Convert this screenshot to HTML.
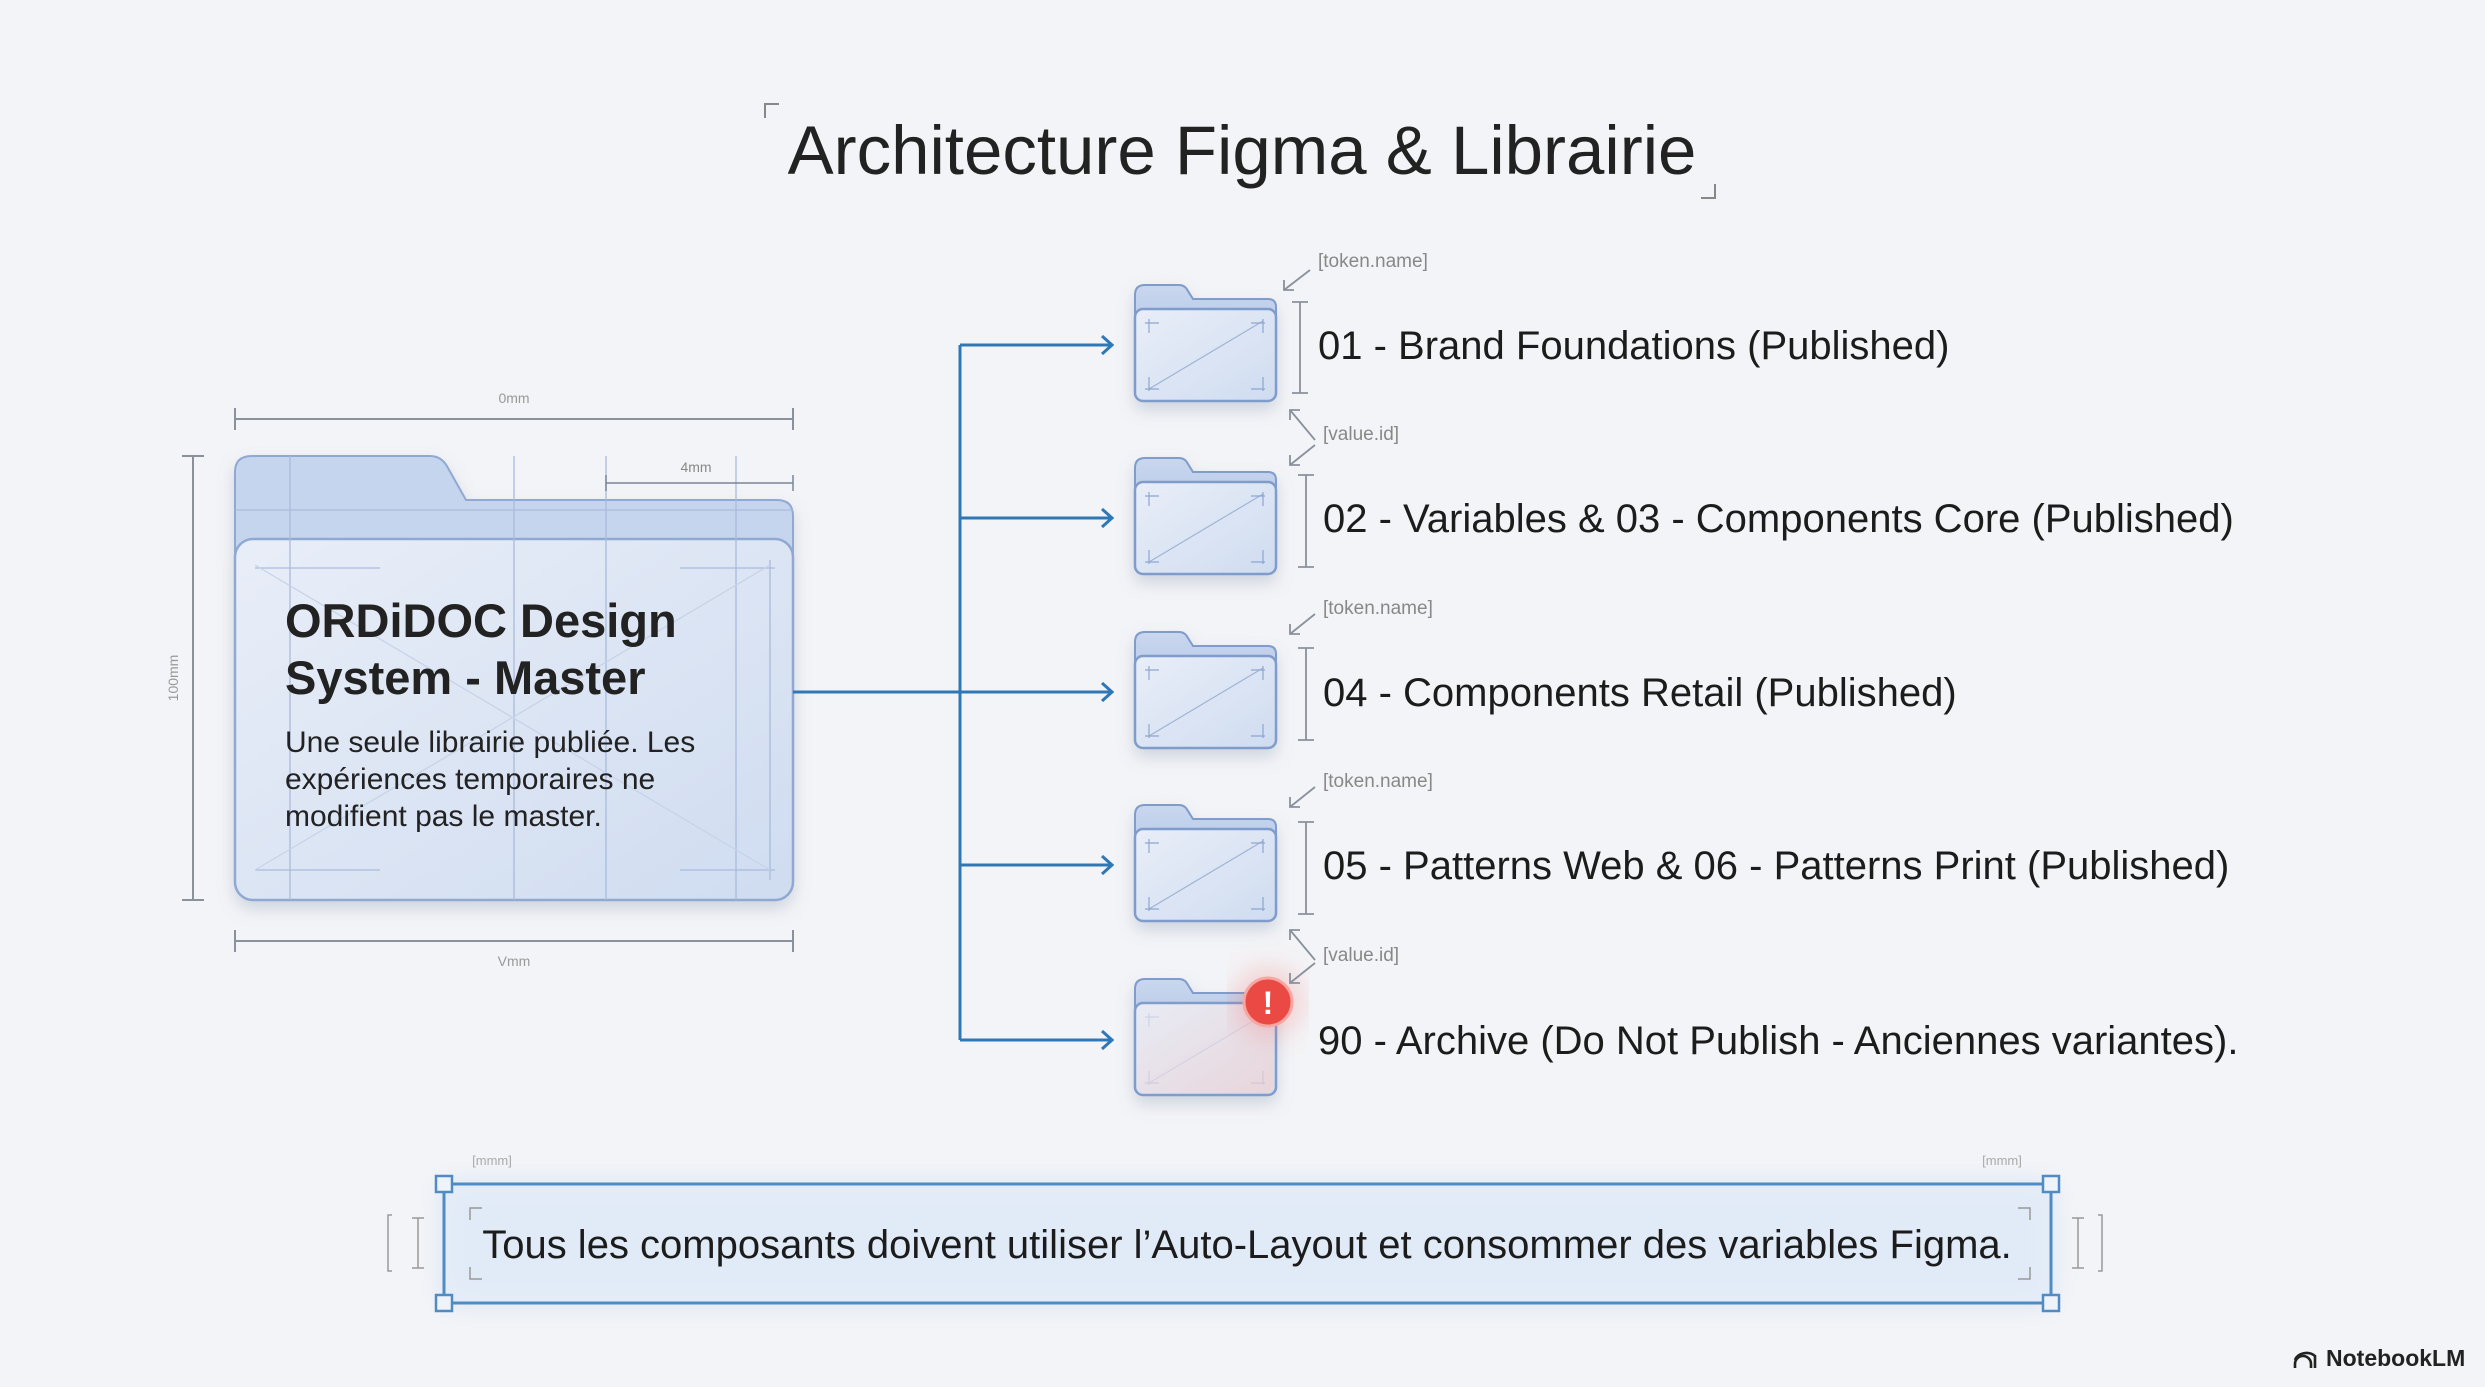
<!DOCTYPE html>
<html><head><meta charset="utf-8"><style>
html,body{margin:0;padding:0;background:#f3f4f7;}
svg{display:block;font-family:"Liberation Sans",sans-serif;}
</style></head><body>
<svg width="2485" height="1387" viewBox="0 0 2485 1387" xmlns="http://www.w3.org/2000/svg">
<defs>
<linearGradient id="fg" x1="0" y1="0" x2="1" y2="1"><stop offset="0" stop-color="#e9eef8"/><stop offset="1" stop-color="#cfdcf0"/></linearGradient>
<linearGradient id="bg2" x1="0" y1="0" x2="0" y2="1"><stop offset="0" stop-color="#c9d7ee"/><stop offset="1" stop-color="#b3c6e6"/></linearGradient>
<linearGradient id="red" x1="0" y1="0" x2="1" y2="1"><stop offset="0" stop-color="#e8eaf3"/><stop offset="1" stop-color="#f3d2d2"/></linearGradient>
<filter id="sh" x="-20%" y="-20%" width="140%" height="150%"><feDropShadow dx="0" dy="8" stdDeviation="8" flood-color="#7a8aa8" flood-opacity="0.3"/></filter>
<filter id="glow" x="-10%" y="-50%" width="120%" height="200%"><feGaussianBlur stdDeviation="14"/></filter>
<g id="sf">
<path d="M0,10 Q0,0 10,0 L44,0 Q50,0 53,6 L58,14 L133,14 Q141,14 141,22 L141,60 L0,60 Z" fill="url(#bg2)" stroke="#7f9ccb" stroke-width="2"/>
<rect x="0" y="24" width="141" height="92" rx="8" fill="url(#fg)" stroke="#7f9ccb" stroke-width="2.5"/>
<line x1="14" y1="104" x2="128" y2="36" stroke="#9fb3d6" stroke-width="1.2"/>
<path d="M14,34 v14 M10,38 h14 M128,34 v14 M116,38 h14 M14,92 v14 M10,104 h14 M128,92 v14 M116,104 h14" stroke="#8fa6cf" stroke-width="1.2"/>
</g>
<marker id="ah" markerWidth="14" markerHeight="20" refX="12" refY="10" orient="auto" markerUnits="userSpaceOnUse"><path d="M2,1 L12,10 L2,19" fill="none" stroke="#2f78b7" stroke-width="3"/></marker>
</defs>

<path d="M765,118 v-14 h14" stroke="#888" stroke-width="2" fill="none"/>
<path d="M1715,184 v14 h-14" stroke="#888" stroke-width="2" fill="none"/>
<text x="1242" y="174" text-anchor="middle" font-size="69" fill="#222">Architecture Figma &amp; Librairie</text>

<g stroke="#8a919c" stroke-width="2" fill="none">
<path d="M235,408 v22 M235,419 H793 M793,408 v22"/>
<path d="M182,456 h22 M193,456 V900 M182,900 h22"/>
<path d="M235,930 v22 M235,941 H793 M793,930 v22"/>
</g>
<text x="514" y="403" text-anchor="middle" font-size="14" fill="#999">0mm</text>
<text x="514" y="966" text-anchor="middle" font-size="14" fill="#999">Vmm</text>
<text x="178" y="678" text-anchor="middle" font-size="14" fill="#999" transform="rotate(-90 178 678)">100mm</text>

<g filter="url(#sh)">
<path d="M235,472 Q235,456 252,456 L430,456 Q442,456 448,468 L466,500 L777,500 Q793,500 793,516 L793,700 L235,700 Z" fill="#c6d5ee" stroke="#90a9d3" stroke-width="2"/>
<rect x="235" y="539" width="558" height="361" rx="18" fill="url(#fg)" stroke="#90a9d3" stroke-width="2.5"/>
</g>
<g stroke="#a9bbdc" stroke-width="1.3" fill="none">
<path d="M290,456 V900 M514,456 V900 M606,456 V900 M736,456 V900"/>
<path d="M235,510 H793"/>
<path d="M255,870 H380 M680,870 H775 M255,568 H380 M680,568 H775 M770,560 V880"/>
<path d="M255,565 L770,870 M770,565 L255,870" stroke="#c7d3e8"/>
</g>
<path d="M606,483 H793 M606,475 v16 M793,475 v16" stroke="#7b8596" stroke-width="1.5"/>
<text x="696" y="472" text-anchor="middle" font-size="14" fill="#888">4mm</text>
<text x="285" y="637" font-size="47" font-weight="bold" fill="#222">ORDiDOC Design</text>
<text x="285" y="694" font-size="47" font-weight="bold" fill="#222">System - Master</text>
<text x="285" y="752" font-size="30" fill="#222">Une seule librairie publiée. Les</text>
<text x="285" y="789" font-size="30" fill="#222">expériences temporaires ne</text>
<text x="285" y="826" font-size="30" fill="#222">modifient pas le master.</text>

<g stroke="#2f78b7" stroke-width="3" fill="none">
<path d="M793,692 H960"/>
<path d="M960,345 V1040"/>
<path d="M960,345 H1112" marker-end="url(#ah)"/>
<path d="M960,518 H1112" marker-end="url(#ah)"/>
<path d="M960,692 H1112" marker-end="url(#ah)"/>
<path d="M960,865 H1112" marker-end="url(#ah)"/>
<path d="M960,1040 H1112" marker-end="url(#ah)"/>
</g>

<g filter="url(#sh)">
<use href="#sf" x="1135" y="285"/>
<use href="#sf" x="1135" y="458"/>
<use href="#sf" x="1135" y="632"/>
<use href="#sf" x="1135" y="805"/>
<use href="#sf" x="1135" y="979"/>
</g>
<rect x="1137" y="1005" width="137" height="88" rx="8" fill="url(#red)" opacity="0.7"/>
<circle cx="1268" cy="1002" r="34" fill="#f25b55" opacity="0.25" filter="url(#glow)"/>
<circle cx="1268" cy="1002" r="24" fill="#ea4a43" stroke="#f7a6a2" stroke-width="3"/>
<text x="1268" y="1014" text-anchor="middle" font-size="32" font-weight="bold" fill="#fff">!</text>

<g stroke="#8a919c" stroke-width="1.8" fill="none">
<path d="M1292,302 h16 M1300,302 V393 M1292,393 h16"/>
<path d="M1298,475 h16 M1306,475 V567 M1298,567 h16"/>
<path d="M1298,648 h16 M1306,648 V740 M1298,740 h16"/>
<path d="M1298,822 h16 M1306,822 V914 M1298,914 h16"/>
<path d="M1310,270 L1284,290 M1284,280 v10 h10"/>
<path d="M1315,440 L1290,410 M1290,420 v-10 h10"/>
<path d="M1315,445 L1290,465 M1290,455 v10 h10"/>
<path d="M1315,614 L1290,634 M1290,624 v10 h10"/>
<path d="M1315,787 L1290,807 M1290,797 v10 h10"/>
<path d="M1315,960 L1290,930 M1290,940 v-10 h10"/>
<path d="M1315,963 L1290,983 M1290,973 v10 h10"/>
</g>
<g font-size="19" fill="#888">
<text x="1318" y="267">[token.name]</text>
<text x="1323" y="440">[value.id]</text>
<text x="1323" y="614">[token.name]</text>
<text x="1323" y="787">[token.name]</text>
<text x="1323" y="961">[value.id]</text>
</g>
<g font-size="40" fill="#1c1c1c">
<text x="1318" y="359">01 - Brand Foundations (Published)</text>
<text x="1323" y="532">02 - Variables &amp; 03 - Components Core (Published)</text>
<text x="1323" y="706">04 - Components Retail (Published)</text>
<text x="1323" y="879">05 - Patterns Web &amp; 06 - Patterns Print (Published)</text>
<text x="1318" y="1054">90 - Archive (Do Not Publish - Anciennes variantes).</text>
</g>

<rect x="444" y="1184" width="1607" height="119" fill="#cfe0f4" opacity="0.8" filter="url(#glow)"/>
<rect x="444" y="1184" width="1607" height="119" fill="#e3ecf7" opacity="0.8"/>
<rect x="444" y="1184" width="1607" height="119" fill="none" stroke="#4f8cc6" stroke-width="3"/>
<g fill="#eef3fa" stroke="#4f8cc6" stroke-width="2.5">
<rect x="436" y="1176" width="16" height="16"/><rect x="2043" y="1176" width="16" height="16"/>
<rect x="436" y="1295" width="16" height="16"/><rect x="2043" y="1295" width="16" height="16"/>
</g>
<g stroke="#999" stroke-width="1.5" fill="none">
<path d="M470,1220 v-12 h12 M470,1267 v12 h12 M2018,1208 h12 v12 M2018,1279 h12 v-12"/>
<path d="M412,1218 h12 M418,1218 V1268 M412,1268 h12 M2072,1218 h12 M2078,1218 V1268 M2072,1268 h12"/>
<path d="M392,1215 h-4 v56 h4 M2098,1215 h4 v56 h-4"/>
</g>
<text x="492" y="1165" text-anchor="middle" font-size="13" fill="#aaa">[mmm]</text>
<text x="2002" y="1165" text-anchor="middle" font-size="13" fill="#aaa">[mmm]</text>
<text x="1247" y="1258" text-anchor="middle" font-size="40" fill="#1c1c1c">Tous les composants doivent utiliser l’Auto-Layout et consommer des variables Figma.</text>

<g stroke="#222" stroke-width="2.6" fill="none">
<path d="M2295,1368 v-4 a8,8 0 0 1 16,0 v4"/>
<path d="M2295,1360 a12,10 0 0 1 20,-4 l0,12"/>
</g>
<text x="2326" y="1366" font-size="23" font-weight="bold" fill="#222">NotebookLM</text>
</svg>
</body></html>
